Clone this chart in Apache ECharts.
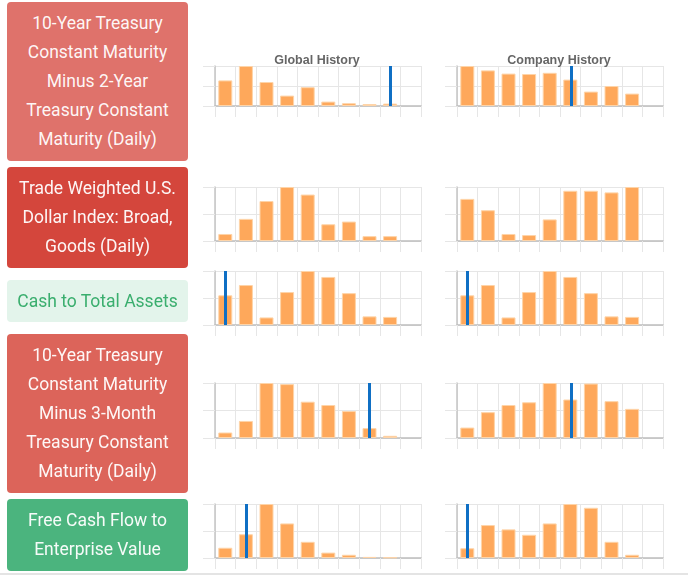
<!DOCTYPE html>
<html>
<head>
<meta charset="utf-8">
<script src="https://cdn.jsdelivr.net/npm/echarts@6/dist/echarts.min.js"></script>
<style>
  body { margin: 0; background: #fff; }
  #page { position: relative; width: 688px; height: 577px; overflow: hidden; }
  #chart { position: absolute; left: 0; top: 0; width: 688px; height: 577px; }
  .factor {
    position: absolute; left: 7px; width: 181px;
    display: flex; align-items: center; justify-content: center;
    text-align: center; white-space: pre-line;
    font-family: Roboto, sans-serif; font-size: 17.5px; line-height: 29px;
    color: rgba(255,255,255,0.95); border-radius: 4px;
  }
  #rule { position: absolute; left: 0; top: 573px; width: 688px; height: 2px; background: #e4e4e4; }
</style>
</head>
<body>
<div id="page">
  <div id="chart"></div>
  <div id="rule"></div>
</div>
<script>
// factor names, one per row
const factorNames = [
  '10-Year Treasury\nConstant Maturity\nMinus 2-Year\nTreasury Constant\nMaturity (Daily)',
  'Trade Weighted U.S.\nDollar Index: Broad,\nGoods (Daily)',
  'Cash to Total Assets',
  '10-Year Treasury\nConstant Maturity\nMinus 3-Month\nTreasury Constant\nMaturity (Daily)',
  'Free Cash Flow to\nEnterprise Value'
];

// histogram bin heights (relative), 10 bins each
const t10y2yGlobal  = [64, 100, 60, 26, 47, 11, 7, 5, 6, 0];
const t10y2yCompany = [100, 89, 81, 80, 83, 66, 36, 50, 31, 0];
const dollarGlobal  = [13, 41, 74, 100, 86, 31, 36, 9, 9, 0];
const dollarCompany = [78, 57, 13, 11, 40, 93, 93, 90, 100, 0];
const cashGlobal    = [55, 74, 14, 61, 100, 89, 59, 16, 15, 0];
const cashCompany   = [55, 74, 14, 61, 100, 89, 59, 16, 15, 0];
const t10y3mGlobal  = [10, 31, 100, 98, 66, 60, 49, 18, 4, 0];
const t10y3mCompany = [19, 47, 60, 65, 100, 70, 99, 67, 53, 0];
const fcfGlobal     = [19, 44, 100, 64, 30, 10, 6, 2, 1, 0];
const fcfCompany    = [18, 61, 53, 43, 64, 100, 93, 30, 6, 0];

// current value position, in bin units (null = none shown)
const globalMarkers  = [8.5, null, 0.5, 7.5, 1.5];
const companyMarkers = [5.55, null, 0.5, 5.55, 0.5];

const globalSeries  = [t10y2yGlobal, dollarGlobal, cashGlobal, t10y3mGlobal, fcfGlobal];
const companySeries = [t10y2yCompany, dollarCompany, cashCompany, t10y3mCompany, fcfCompany];
const chartTitles = ['Global History', 'Company History'];

// layout
const boxes = [
  { top: 2, height: 159, bg: '#df726b', color: null },
  { top: 167, height: 101, bg: '#d4463c', color: null },
  { top: 280, height: 42, bg: '#e3f4eb', color: '#3aae6e' },
  { top: 334, height: 159, bg: '#dc645a', color: null },
  { top: 499, height: 72, bg: '#4bb47e', color: null }
];
const rowGrids = [
  { top: 66, height: 40 },
  { top: 187, height: 54 },
  { top: 271, height: 54 },
  { top: 383, height: 55 },
  { top: 504, height: 54 }
];
const colLeft = [215, 457];
const plotWidth = 206;

const page = document.getElementById('page');
factorNames.forEach(function (name, i) {
  const d = document.createElement('div');
  d.className = 'factor';
  d.style.top = boxes[i].top + 'px';
  d.style.height = boxes[i].height + 'px';
  d.style.background = boxes[i].bg;
  if (boxes[i].color) d.style.color = boxes[i].color;
  d.textContent = name;
  page.appendChild(d);
});

const grids = [], xAxes = [], yAxes = [], series = [], titles = [];
rowGrids.forEach(function (row, r) {
  [globalSeries[r], companySeries[r]].forEach(function (vals, c) {
    const idx = grids.length;
    const marker = c === 0 ? globalMarkers[r] : companyMarkers[r];
    const top = Math.max.apply(null, vals);
    grids.push({ left: colLeft[c], top: row.top, width: plotWidth, height: row.height });
    xAxes.push({
      gridIndex: idx, type: 'value', min: 0, max: 10, interval: 1,
      axisLabel: { show: false },
      axisLine: { show: true, lineStyle: { color: '#bdbdbd', width: 1.5 } },
      axisTick: { show: true, length: 11, lineStyle: { color: '#e6e6e6' } },
      splitLine: { show: true, lineStyle: { color: '#e6e6e6' } }
    });
    yAxes.push({
      gridIndex: idx, type: 'value', min: 0, max: top, interval: top / 2,
      axisLabel: { show: false },
      axisLine: { show: true, lineStyle: { color: '#c4c4c4', width: 1.5 } },
      axisTick: { show: true, length: 12, lineStyle: { color: '#e6e6e6' } },
      splitLine: { show: true, lineStyle: { color: '#e6e6e6' } }
    });
    const s = {
      type: 'bar', xAxisIndex: idx, yAxisIndex: idx,
      // empty bins draw nothing
      data: vals.map(function (v, i) { return v > 0 ? [i + 0.5, v] : [i + 0.5, '-']; }),
      barWidth: 14,
      itemStyle: { color: '#fea85b', borderColor: '#fed4a8', borderWidth: 1 },
      silent: true, animation: false
    };
    if (marker !== null) {
      s.markLine = {
        silent: true, symbol: ['none', 'none'], label: { show: false },
        lineStyle: { color: '#0f6fc4', width: 3, type: 'solid' },
        data: [{ xAxis: marker }], animation: false
      };
    }
    series.push(s);
    if (r === 0) {
      titles.push({
        text: chartTitles[c], left: colLeft[c] + plotWidth / 2 - 6, top: 49, textAlign: 'center',
        textStyle: { fontSize: 12.5, fontWeight: 'bold', color: '#666', fontFamily: 'Liberation Sans, Arial, sans-serif' }
      });
    }
  });
});

const chart = echarts.init(document.getElementById('chart'));
chart.setOption({
  animation: false,
  title: titles,
  grid: grids,
  xAxis: xAxes,
  yAxis: yAxes,
  series: series
});
</script>
</body>
</html>
